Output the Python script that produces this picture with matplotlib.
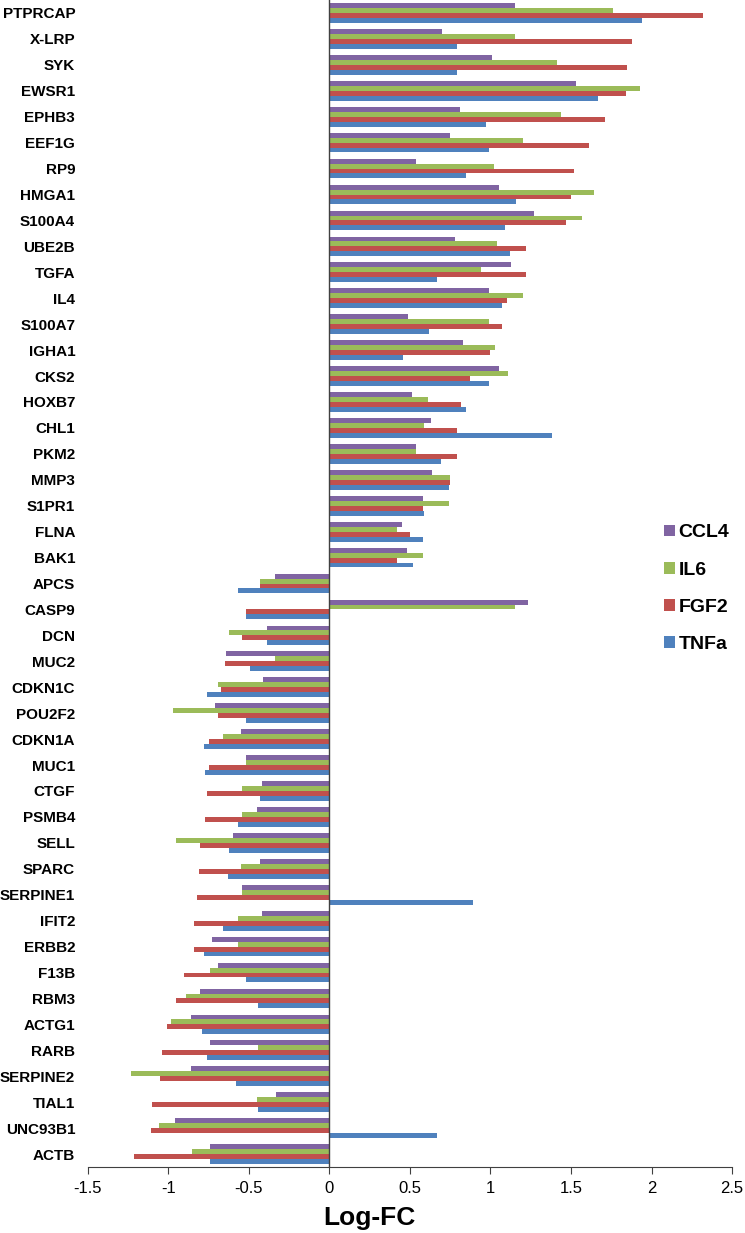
import numpy as np
import matplotlib
matplotlib.use("Agg")
import matplotlib.pyplot as plt

genes = ["PTPRCAP", "X-LRP", "SYK", "EWSR1", "EPHB3", "EEF1G", "RP9", "HMGA1",
         "S100A4", "UBE2B", "TGFA", "IL4", "S100A7", "IGHA1", "CKS2", "HOXB7",
         "CHL1", "PKM2", "MMP3", "S1PR1", "FLNA", "BAK1", "APCS", "CASP9",
         "DCN", "MUC2", "CDKN1C", "POU2F2", "CDKN1A", "MUC1", "CTGF", "PSMB4",
         "SELL", "SPARC", "SERPINE1", "IFIT2", "ERBB2", "F13B", "RBM3", "ACTG1",
         "RARB", "SERPINE2", "TIAL1", "UNC93B1", "ACTB"]

ccl4 = [1.15, 0.70, 1.01, 1.53, 0.81, 0.75, 0.54, 1.05,
        1.27, 0.78, 1.13, 0.99, 0.49, 0.83, 1.05, 0.51,
        0.63, 0.54, 0.64, 0.58, 0.45, 0.48, -0.34, 1.23,
        -0.39, -0.64, -0.41, -0.71, -0.55, -0.52, -0.42, -0.45,
        -0.60, -0.43, -0.54, -0.42, -0.73, -0.69, -0.80, -0.86,
        -0.74, -0.86, -0.33, -0.96, -0.74]
il6 = [1.76, 1.15, 1.41, 1.93, 1.44, 1.20, 1.02, 1.64,
       1.57, 1.04, 0.94, 1.20, 0.99, 1.03, 1.11, 0.61,
       0.59, 0.54, 0.75, 0.74, 0.42, 0.58, -0.43, 1.15,
       -0.62, -0.34, -0.69, -0.97, -0.66, -0.52, -0.54, -0.54,
       -0.95, -0.55, -0.54, -0.57, -0.57, -0.74, -0.89, -0.98,
       -0.44, -1.23, -0.45, -1.06, -0.85]
fgf2 = [2.32, 1.88, 1.85, 1.84, 1.71, 1.61, 1.52, 1.50,
        1.47, 1.22, 1.22, 1.10, 1.07, 1.00, 0.87, 0.82,
        0.79, 0.79, 0.75, 0.58, 0.50, 0.42, -0.43, -0.52,
        -0.54, -0.65, -0.67, -0.69, -0.75, -0.75, -0.76, -0.77,
        -0.80, -0.81, -0.82, -0.84, -0.84, -0.90, -0.95, -1.01,
        -1.04, -1.05, -1.10, -1.11, -1.21]
tnfa = [1.94, 0.79, 0.79, 1.67, 0.97, 0.99, 0.85, 1.16,
        1.09, 1.12, 0.67, 1.07, 0.62, 0.46, 0.99, 0.85,
        1.38, 0.69, 0.74, 0.59, 0.58, 0.52, -0.57, -0.52,
        -0.39, -0.49, -0.76, -0.52, -0.78, -0.77, -0.43, -0.57,
        -0.62, -0.63, 0.89, -0.66, -0.78, -0.52, -0.44, -0.79,
        -0.76, -0.58, -0.44, 0.67, -0.74]

series = [("CCL4", ccl4, "#8064A2"), ("IL6", il6, "#9BBB59"),
          ("FGF2", fgf2, "#C0504D"), ("TNFa", tnfa, "#4F81BD")]

fig = plt.figure(figsize=(7.45, 12.33), dpi=100)
ax = fig.add_axes([0.1177, 0.0535, 0.865, 0.9465])

y = np.arange(len(genes))
h = 0.19
for k, (name, vals, col) in enumerate(series):
    ax.barh(y + (k - 1.5) * h, vals, height=h, color=col, label=name)

ax.set_xlim(-1.5, 2.5)
ax.set_ylim(len(genes) - 0.5, -0.5)
ax.set_xticks(np.arange(-1.5, 2.51, 0.5))
ax.set_xticklabels(["-1.5", "-1", "-0.5", "0", "0.5", "1", "1.5", "2", "2.5"],
                   fontsize=12, family="Liberation Sans")
ax.set_yticks(y)
ax.set_yticklabels(genes, fontsize=11, fontweight="bold", family="Liberation Sans")
ax.tick_params(axis="y", length=0, pad=9)
ax.tick_params(axis="x", direction="out", length=5, color="#404040", pad=5)

for s in ["top", "right", "left"]:
    ax.spines[s].set_visible(False)
ax.spines["bottom"].set_color("#404040")
ax.axvline(0, color="#404040", lw=1)

fig.text(369 / 745, 1 - 1218 / 1233, "Log-FC", fontsize=19, fontweight="bold",
         family="Liberation Sans", ha="center", va="center")

ax.legend(loc="center left", bbox_to_anchor=(0.867, 0.4957), frameon=False,
          prop={"family": "Liberation Sans", "size": 14, "weight": "bold"},
          handlelength=0.55, handleheight=0.55, handletextpad=0.2,
          labelspacing=1.03)

fig.savefig("out.png", dpi=100)
